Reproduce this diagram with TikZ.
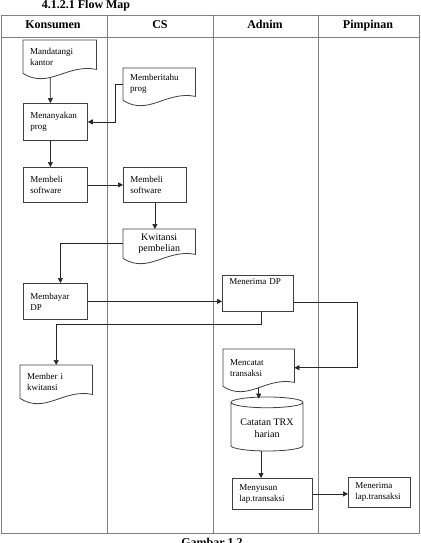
\documentclass[tikz,border=0pt]{standalone}
\usepackage{fontspec}
\setmainfont{Liberation Serif}
\usetikzlibrary{arrows.meta,calc,shapes.geometric}

\newcommand{\docoutline}[1]{%
  \draw[boxline] (#1.north east) -- (#1.north west) -- (#1.south west)
    .. controls ($(#1.south west)!0.35!(#1.south east)+(0,16)$) and ($(#1.south west)!0.6!(#1.south east)+(0,-10)$)
    .. ($(#1.south east)+(0,-4)$) -- cycle;}

\begin{document}
\begin{tikzpicture}[x=1pt,y=-1pt,font=\fontsize{9}{11}\selectfont,
  lane/.style={draw=black!50,line width=0.8pt},
  boxline/.style={draw=black!75,line width=0.8pt},
  box/.style 2 args={boxline,anchor=north west,align=left,inner xsep=7pt,text width=#1,minimum height=#2},
  docnode/.style 2 args={anchor=north west,align=left,inner xsep=7pt,text width=#1,minimum height=#2},
  head/.style={anchor=base,font=\fontsize{12}{14}\selectfont\bfseries},
  arr/.style={draw=black!85,line width=0.7pt,-{Triangle[length=5pt,width=5pt]}},
  cyl/.style={boxline,cylinder,shape border rotate=90,aspect=0.18,minimum width=72pt,minimum height=54pt,align=center,font=\fontsize{10}{12}\selectfont}]
  \useasboundingbox (0,0) rectangle (420,543);
  %\draw (0,0) rectangle (420,543);
  \node[head] (judul) at (86,9) {4.1.2.1 Flow Map};
  \node[head] (gambar) at (212,546) {Gambar 1.2};
  \draw[lane] (1,15) rectangle (419,533) (1,37) -- (419,37)
    (107,15) -- (107,533) (213,15) -- (213,533) (318,15) -- (318,533);
  \node[head] (konsumen) at (53,29) {Konsumen};
  \node[head] (cs) at (160,29) {CS};
  \node[head] (adnim) at (265,29) {Adnim};
  \node[head] (pimpinan) at (368,29) {Pimpinan};

  \node[docnode={59pt}{33pt}] (datang) at (23,40) {Mandatangi\\kantor};
  \node[docnode={58pt}{32pt}] (beritahu) at (123,68) {Memberitahu\\prog};
  \node[box={50pt}{37pt}] (tanya) at (23,103) {Menanyakan\\prog};
  \node[box={50pt}{35pt}] (beli1) at (23,167) {Membeli\\software};
  \node[box={49pt}{35pt}] (beli2) at (123,167) {Membeli\\software};
  \node[docnode={58pt}{29pt},align=center,font=\fontsize{10}{11}\selectfont] (kwit) at (123,229) {Kwitansi\\pembelian};
  \node[box={50pt}{36pt}] (bayar) at (23,283) {Membayar\\DP};
  \node[box={57pt}{36pt},text height=7pt,text depth=24pt,inner ysep=2.5pt] (terimadp) at (222,275) {Menerima DP};
  \node[docnode={58pt}{33pt}] (member) at (20,365) {Member i\\kwitansi};
  \node[docnode={57pt}{37pt}] (catat) at (223,349) {Mencatat\\transaksi};
  \node[cyl] (trx) at (267,428) {Catatan TRX\\harian};
  \node[box={66pt}{31pt}] (susun) at (232,478) {Menyusun\\lap.transaksi};
  \node[box={48pt}{30pt}] (terimalap) at (348,477) {Menerima\\lap.transaksi};
  \docoutline{datang}
  \docoutline{beritahu}
  \docoutline{kwit}
  \docoutline{member}
  \docoutline{catat}

  \draw[arr] ([xshift=-9.5pt,yshift=-4pt]datang.south) -- ([xshift=-5pt]tanya.north);
  \draw[arr] (beritahu.west) -- ++(-8,0) |- (tanya.east);
  \draw[arr] ([xshift=-5pt]tanya.south) -- ([xshift=-5pt]beli1.north);
  \draw[arr] (beli1.east) -- (beli2.west);
  \draw[arr] (beli2.south) -- (beli2.south |- kwit.north);
  \draw[arr] (kwit.west) -| ([xshift=5pt]bayar.north);
  \draw[arr] (bayar.east) -- (bayar.east -| terimadp.west);
  \draw[arr] ([xshift=3.5pt]terimadp.south) -- ++(0,13) -| (member.north);
  \draw[arr] ([yshift=-9pt]terimadp.east) -- ++(64,0) |- (catat.east);
  \draw[arr] ([yshift=-2pt]catat.south) -- ([yshift=-2pt]catat.south |- trx.north);
  \draw[arr] ([xshift=-6pt]trx.south) -- ([xshift=-6pt]trx.south |- susun.north);
  \draw[arr] (susun.east) -- (susun.east -| terimalap.west);
\end{tikzpicture}
\end{document}
